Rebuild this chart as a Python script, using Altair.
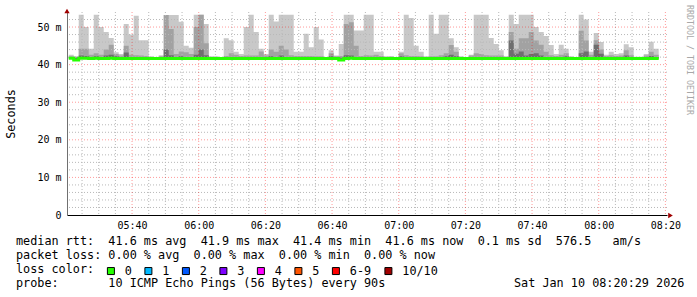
import altair as alt
import pandas as pd

# ---------------- data ----------------
max_ms = [
    42.6, 42.2, 53.3, 50.0, 44.2, 53.3, 50.0, 48.7, 47.1, 43.3,
    42.8, 50.8, 48.0, 53.0, 46.5, 46.5, 42.2, 42.0, 42.5, 53.2,
    53.2, 53.2, 51.4, 45.0, 44.5, 53.3, 53.3, 50.8, 42.2, 42.2,
    42.0, 47.0, 46.5, 43.4, 42.8, 50.0, 53.3, 48.7, 44.2, 42.8,
    53.3, 51.5, 53.3, 53.3, 53.3, 43.4, 43.4, 48.2, 44.6, 50.0,
    46.7, 42.0, 43.8, 42.4, 45.5, 53.3, 53.3, 49.1, 49.1, 53.3,
    53.3, 43.4, 43.4, 42.2, 42.3, 42.0, 43.4, 53.3, 52.4, 45.0,
    43.4, 42.2, 53.3, 48.2, 53.3, 53.3, 47.0, 44.6, 42.2, 42.0,
    42.6, 53.3, 53.3, 53.3, 47.1, 45.5, 43.8, 42.2, 53.3, 50.8,
    53.3, 53.3, 53.3, 50.0, 48.7, 47.6, 45.2, 42.8, 45.3, 44.2,
    42.2, 41.9, 53.3, 52.0, 43.4, 48.4, 46.0, 42.6, 43.4, 42.8,
    43.0, 45.4, 44.6, 42.1, 42.1, 42.8, 46.1, 44.2,
]
mid_ms = [
    42.2, 42.0, 44.2, 44.2, 42.6, 43.0, 42.6, 44.0, 45.3, 42.8,
    42.4, 45.0, 42.6, 42.5, 42.4, 42.3, 42.0, 41.9, 42.2, 53.2,
    49.5, 42.8, 43.5, 43.3, 42.8, 50.0, 53.3, 45.7, 42.0, 42.0,
    41.9, 42.3, 43.0, 42.6, 42.3, 42.4, 42.4, 42.4, 43.5, 42.4,
    44.0, 43.4, 45.0, 44.0, 42.5, 42.3, 42.3, 42.3, 42.3, 42.2,
    42.2, 41.9, 43.0, 42.2, 42.3, 50.8, 51.3, 45.0, 42.3, 42.5,
    42.4, 42.6, 42.3, 42.0, 42.0, 41.9, 43.0, 42.5, 42.3, 42.3,
    42.2, 42.0, 42.2, 42.2, 42.5, 43.0, 45.2, 43.4, 42.0, 41.9,
    42.4, 43.0, 42.8, 42.5, 42.4, 42.4, 42.4, 42.0, 48.7, 44.2,
    47.0, 47.0, 48.7, 46.4, 45.3, 43.4, 42.5, 42.3, 42.6, 43.0,
    42.0, 41.8, 49.0, 46.4, 42.6, 46.5, 44.0, 42.3, 42.5, 42.3,
    42.4, 43.8, 42.5, 42.0, 42.0, 42.4, 43.4, 42.6,
]
dark_ms = [
    41.9, 41.8, 42.4, 42.3, 42.0, 42.2, 42.0, 42.4, 42.6, 42.2,
    42.0, 43.2, 42.0, 42.0, 41.9, 41.8, 41.7, 41.7, 41.8, 44.0,
    42.5, 42.0, 42.2, 42.0, 41.8, 42.6, 44.0, 42.5, 41.7, 41.7,
    41.7, 41.8, 42.0, 41.9, 41.8, 41.9, 41.8, 41.8, 42.0, 41.8,
    42.2, 42.0, 42.4, 42.0, 41.8, 41.8, 41.8, 41.8, 41.8, 41.8,
    41.8, 41.7, 42.2, 41.8, 41.8, 42.5, 42.4, 42.0, 41.8, 41.9,
    41.8, 42.0, 41.8, 41.7, 41.7, 41.7, 42.2, 41.9, 41.8, 41.8,
    41.7, 41.7, 41.7, 41.7, 41.9, 42.2, 42.6, 42.2, 41.7, 41.7,
    41.8, 42.0, 41.9, 41.8, 41.8, 41.8, 41.8, 41.7, 46.4, 42.9,
    43.5, 42.4, 42.8, 43.0, 42.4, 42.0, 41.9, 41.8, 42.0, 42.2,
    41.7, 41.7, 43.0, 43.5, 41.9, 45.3, 42.9, 41.8, 41.9, 41.8,
    41.9, 42.4, 41.9, 41.7, 41.7, 41.8, 42.3, 42.0,
]
median_ms = [
    41.7, 41.2, 41.7, 41.7, 41.6, 41.7, 41.6, 41.6, 41.7, 41.6,
    41.6, 41.6, 41.6, 41.6, 41.6, 41.6, 41.6, 41.6, 41.6, 41.6,
    41.6, 41.6, 41.6, 41.6, 41.6, 41.6, 41.6, 41.6, 41.6, 41.6,
    41.6, 41.6, 41.6, 41.6, 41.6, 41.6, 41.6, 41.6, 41.6, 41.6,
    41.6, 41.6, 41.6, 41.6, 41.6, 41.6, 41.6, 41.6, 41.6, 41.6,
    41.6, 41.6, 41.6, 41.6, 41.2, 41.6, 41.7, 41.6, 41.6, 41.6,
    41.6, 41.6, 41.6, 41.6, 41.6, 41.6, 41.6, 41.6, 41.6, 41.6,
    41.6, 41.6, 41.6, 41.6, 41.6, 41.6, 41.6, 41.6, 41.6, 41.6,
    41.6, 41.6, 41.6, 41.6, 41.6, 41.6, 41.6, 41.6, 41.6, 41.6,
    41.6, 41.6, 41.6, 41.6, 41.6, 41.6, 41.6, 41.6, 41.6, 41.6,
    41.6, 41.6, 41.6, 41.6, 41.6, 41.6, 41.6, 41.6, 41.6, 41.6,
    41.6, 41.6, 41.6, 41.6, 41.6, 41.6, 41.6, 41.6,
]
first_step = "2026-01-10 05:21:00"
step = "90s"

loss_labels = ["0", "1", "2", "3", "4", "5", "6-9", "10/10"]
loss_colors = ["#26ff00", "#00b8ff", "#0059ff", "#7e00ff", "#ff00ff",
               "#ff5500", "#ff0000", "#a10000"]

y_ticks = [0, 10, 20, 30, 40, 50]
x_label_times = ["05:40", "06:00", "06:20", "06:40", "07:00", "07:20",
                 "07:40", "08:00", "08:20"]

line1 = "median rtt:  41.6 ms avg  41.9 ms max  41.4 ms min  41.6 ms now  0.1 ms sd  576.5   am/s"
line2 = "packet loss: 0.00 % avg  0.00 % max  0.00 % min  0.00 % now"
line3 = "loss color:"
line4 = "probe:       10 ICMP Echo Pings (56 Bytes) every 90s"
stamp = "Sat Jan 10 08:20:29 2026"
credit = "RRDTOOL / TOBI OETIKER"

# ---------------- tables ----------------
n = len(max_ms)
times = pd.date_range(first_step, periods=n + 1, freq=step)
df = pd.DataFrame({
    "t": times,
    "max": max_ms + [max_ms[-1]],
    "mid": mid_ms + [mid_ms[-1]],
    "dark": dark_ms + [dark_ms[-1]],
    "median": median_ms + [median_ms[-1]],
})

minor_t = pd.date_range("2026-01-10 05:25:00", "2026-01-10 08:20:00", freq="5min")
vgrid = pd.DataFrame({"t": minor_t, "major": [ts.minute % 20 == 0 for ts in minor_t]})
hv = [v for v in range(2, 54, 2)]
hgrid = pd.DataFrame({"v": hv, "major": [v % 10 == 0 for v in hv]})

MONO = "DejaVu Sans Mono"
FS = 11.8


def dt(hm, sec=0):
    h, m = hm.split(":")
    return alt.DateTime(year=2026, month=1, date=10, hours=int(h), minutes=int(m), seconds=sec)


xs = alt.Scale(domain=[dt("05:20", 29), dt("08:20", 29)])
ys = alt.Scale(domain=[0, 54], nice=False)

x_axis = alt.Axis(values=[dt(s) for s in x_label_times], format="%H:%M", ticks=False,
                  grid=False, domainColor="#000000", domainWidth=1, labelPadding=5,
                  labelFlush=False, labelOverlap=False, labelFont=MONO, labelFontSize=10,
                  labelColor="#000000", title="")
y_axis = alt.Axis(values=y_ticks,
                  labelExpr="datum.value == 0 ? '0\u00a0\u00a0' : datum.value + ' m'",
                  ticks=False, grid=False, domainColor="#707070", labelPadding=6,
                  labelFont=MONO, labelFontSize=10, labelColor="#000000",
                  title="Seconds", titleFont=MONO, titleFontSize=FS, titleFontWeight="normal",
                  titleColor="#000000", titleX=-52.5, titleY=101.5, titleAngle=270,
                  titleBaseline="alphabetic", titleAlign="center")

X = lambda f: alt.X(f, scale=xs, axis=x_axis, title="")
Y = lambda f: alt.Y(f, scale=ys, axis=y_axis, title="Seconds")

base = alt.Chart(df)
smoke1 = base.mark_area(interpolate="step-after", color="#c8c8c8").encode(
    x=X("t:T"), y=Y("max:Q"), y2="median:Q")
smoke2 = base.mark_area(interpolate="step-after", color="#a2a2a2").encode(
    x=X("t:T"), y=Y("mid:Q"), y2="median:Q")
smoke3 = base.mark_area(interpolate="step-after", color="#6e6e6e").encode(
    x=X("t:T"), y=Y("dark:Q"), y2="median:Q")

vminor = alt.Chart(vgrid).transform_filter("!datum.major").mark_rule(
    color="#b8b8b8", strokeDash=[1, 2], strokeWidth=1).encode(x=X("t:T"))
vmajor = alt.Chart(vgrid).transform_filter("datum.major").mark_rule(
    color="#ff0000", opacity=0.4, strokeDash=[1, 2], strokeWidth=1).encode(x=X("t:T"))
hminor = alt.Chart(hgrid).transform_filter("!datum.major").mark_rule(
    color="#b8b8b8", strokeDash=[1, 2], strokeWidth=1).encode(y=Y("v:Q"))
hmajor = alt.Chart(hgrid).transform_filter("datum.major").mark_rule(
    color="#ff0000", opacity=0.4, strokeDash=[1, 2], strokeWidth=1).encode(y=Y("v:Q"))

median_line = base.mark_line(interpolate="step-after", color=loss_colors[0], strokeWidth=3).encode(
    x=X("t:T"), y=Y("median:Q"))

one = pd.DataFrame({"k": [0]})
arrow_up = alt.Chart(one).mark_point(shape="triangle-up", filled=True, size=28, color="#a00000",
                                     opacity=1).encode(x=alt.value(0), y=alt.value(-1))
arrow_right = alt.Chart(one).mark_point(shape="triangle-right", filled=True, size=28, color="#a00000",
                                        opacity=1).encode(x=alt.value(603.5), y=alt.value(203.5))


def txt(s, x, y, align="left"):
    d = pd.DataFrame({"s": [s.replace(" ", "\u00a0")]})
    return alt.Chart(d).mark_text(align=align, baseline="alphabetic", font=MONO,
                                  fontSize=FS, color="#000000").encode(
        x=alt.value(x), y=alt.value(y), text="s:N")


t1 = txt(line1, -51, 233)
t2 = txt(line2, -51, 247)
t3 = txt(line3, -51, 261)
t4 = txt(line4, -51, 275)
t5 = txt(stamp, 447, 275)
t6 = alt.Chart(pd.DataFrame({"s": [credit]})).mark_text(
    align="left", baseline="middle", angle=90, font=MONO, fontSize=8.3, color="#a8a8a8"
).encode(x=alt.value(621.5), y=alt.value(-7), text="s:N")

legend_df = pd.DataFrame({"loss": loss_labels})
legend_layer = alt.Chart(legend_df).mark_square(opacity=0, filled=True).encode(
    fill=alt.Fill("loss:N", scale=alt.Scale(domain=loss_labels, range=loss_colors),
                  legend=alt.Legend(orient="none", legendX=38, legendY=253, direction="horizontal",
                                    title=None, symbolType="square", symbolSize=49,
                                    symbolStrokeColor="#000000", symbolStrokeWidth=1,
                                    symbolOpacity=1, labelFont=MONO, labelFontSize=FS,
                                    labelColor="#000000", labelOffset=8, columnPadding=10.5,
                                    padding=0))
)

chart = alt.layer(
    smoke1, smoke2, smoke3, vminor, hminor, vmajor, hmajor, median_line,
    arrow_up, arrow_right, t1, t2, t3, t4, t5, t6, legend_layer,
).properties(
    width=600, height=203,
    autosize=alt.AutoSizeParams(type="none"),
    padding={"left": 67, "top": 12, "right": 30, "bottom": 82},
    background="#ffffff",
).configure_view(stroke=None)

chart.save("out.html", embed_options={"renderer": "svg", "actions": False})
